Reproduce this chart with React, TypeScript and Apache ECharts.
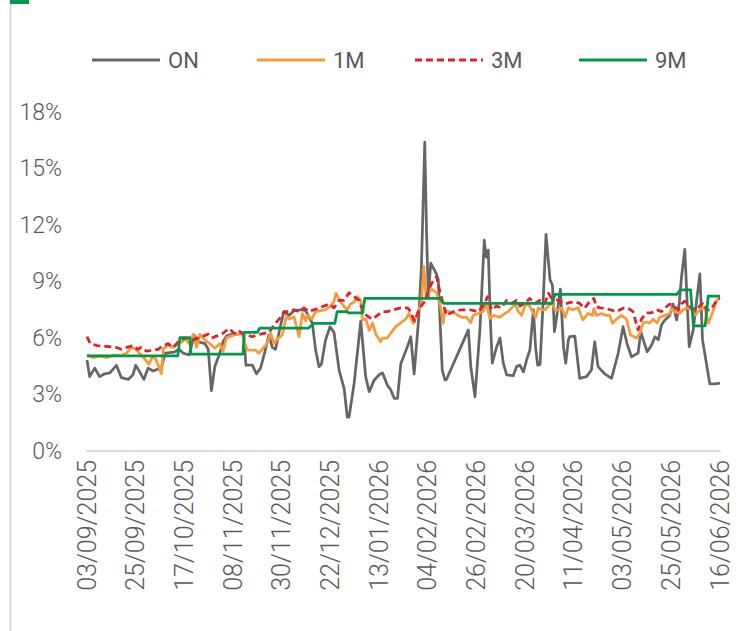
import React, { useEffect, useRef } from "react";
import * as echarts from "echarts";

const xTickLabels = [
  "03/09/2025", "25/09/2025", "17/10/2025", "08/11/2025", "30/11/2025", "22/12/2025", "13/01/2026",
  "04/02/2026", "26/02/2026", "20/03/2026", "11/04/2026", "03/05/2026", "25/05/2026", "16/06/2026",
];
const yTicks = [0, 3, 6, 9, 12, 15, 18];
const seriesNames = ["ON", "1M", "3M", "9M"];

// [day offset from 03/09/2025, rate %]
const onRates = [
  [0, 4.83], [1.2, 3.95], [3.5, 4.4], [5.7, 3.95], [8, 4.1], [10.3, 4.15], [13.3, 4.55], [15.5, 3.9], [18.6, 3.8],
  [20.8, 4.05], [22, 4.55], [23.8, 4.2], [25.7, 3.8], [27.6, 4.4], [29.9, 4.25], [32.1, 4.35], [33.6, 4.4],
  [35.3, 5.2], [39.4, 5.25], [41.6, 5.4], [43.4, 5.2], [46.2, 5.1], [48.4, 6.15], [50.2, 5.8], [53.3, 5.7],
  [54.8, 5.4], [56.2, 3.2], [57.8, 4.5], [59.7, 5.1], [61.5, 5.8], [63, 6.1], [65.3, 6.2], [68.3, 6.2],
  [69.8, 6.3], [70.9, 6.1], [71.8, 4.56], [74.7, 4.56], [76.6, 4.1], [78.4, 4.4], [80, 5.1], [82.2, 6.15],
  [83.7, 5.5], [85.2, 5.4], [87.5, 6.7], [89, 7.4], [91.3, 7.2], [93.5, 7.45], [96.5, 7.5], [98.8, 7.45],
  [100.3, 7.1], [101.8, 6.8], [103.3, 5.36], [104.8, 4.48], [105.9, 4.6], [107.8, 5.9], [109.8, 6.6],
  [111.6, 6.3], [113.9, 4.3], [116.2, 3.3], [117.6, 1.8], [118.4, 1.8], [120.7, 3.6], [123.7, 6.9],
  [125.9, 3.95], [127.5, 3.15], [129.7, 3.75], [132, 4.05], [133.5, 4.15], [135.7, 3.5], [137.2, 3.25],
  [138.8, 2.8], [140.3, 2.8], [141.8, 4.65], [144.5, 5.45], [146.3, 6.07], [147.8, 4.1], [149.9, 7.1],
  [151.1, 9.8], [152.6, 16.4], [153.4, 11.7], [154.2, 8.2], [155.3, 9.97], [157.9, 9.4], [158.7, 9.1],
  [160.5, 4.3], [161.7, 3.77], [162.4, 3.8], [172.3, 6.43], [173.4, 4.48], [175.3, 2.88], [177.5, 6.4],
  [179.5, 11.2], [180.4, 10.3], [181.3, 10.67], [182.2, 7.1], [183.1, 4.66], [185.1, 5.54], [186.6, 6.0],
  [188.1, 4.66], [189.6, 4.04], [192.6, 4.0], [194.1, 4.48], [195.6, 4.56], [197.2, 4.2], [198.6, 4.83],
  [200.1, 5.36], [201.7, 7.5], [202.7, 5.5], [203.6, 4.56], [204.7, 4.6], [206.2, 8.2], [207.4, 11.5],
  [209.2, 9.1], [210.3, 8.8], [211.2, 6.34], [212.2, 7.1], [213.9, 8.6], [215.3, 5.5], [216.3, 4.66],
  [217.5, 5.9], [218.1, 6.07], [220.4, 6.1], [222.6, 3.86], [225.7, 3.95], [227.9, 4.3], [229.4, 5.8],
  [230.9, 4.48], [233.9, 4.1], [237, 3.86], [240, 5.19], [242.2, 6.6], [244, 5.7], [246, 5.0], [249, 5.2],
  [250.2, 6.34], [251.6, 5.8], [253.1, 5.27], [255, 5.6], [256.6, 6.07], [258.1, 5.9], [259.6, 6.7],
  [261.1, 6.96], [263.3, 7.2], [264.8, 7.8], [266.4, 6.96], [267.6, 7.84], [268.6, 9.25], [270.1, 10.7],
  [271.2, 7.8], [272.1, 5.54], [273.9, 6.43], [275.4, 7.96], [276.9, 9.4], [278.1, 5.9], [279.6, 4.83],
  [281.4, 3.56], [283.7, 3.56], [286, 3.6],
];

const oneMRates = [
  [0, 5.1], [3, 4.95], [6, 5.05], [9, 4.95], [12, 5.1], [15, 5.05], [18, 5.2], [20, 5.5], [22, 5.4],
  [24.5, 5.1], [26, 4.9], [28, 4.6], [29.5, 5.0], [31, 4.9], [33.6, 4.1], [34.5, 5.45], [36.7, 5.6],
  [39, 5.5], [41, 5.7], [43, 5.8], [44.5, 6.0], [46, 5.7], [48, 6.2], [49.5, 5.5], [51, 6.2], [53.2, 5.9],
  [55.5, 5.7], [57.8, 5.45], [60, 5.7], [61.5, 5.3], [63, 6.0], [65, 6.1], [67.5, 6.2], [69.8, 6.3],
  [72, 5.5], [72.4, 5.36], [76, 5.36], [77.7, 5.2], [79.5, 5.45], [81.4, 5.7], [83, 6.25], [84.5, 5.7],
  [86.5, 6.0], [88.2, 6.15], [90, 7.13], [91.5, 7.0], [93.5, 7.13], [95.8, 6.07], [97.3, 7.3], [98.8, 6.9],
  [99.5, 7.2], [101.5, 7.0], [103.3, 7.4], [105.5, 7.45], [107.8, 7.5], [110, 7.7], [111.6, 7.93],
  [112.5, 8.37], [114.6, 7.93], [116, 7.7], [117.6, 7.5], [119, 7.8], [120.6, 7.9], [122.2, 8.2],
  [123.7, 8.0], [124.4, 6.96], [126, 7.0], [127.5, 6.4], [129, 6.8], [130.5, 6.2], [132.7, 5.8],
  [133.5, 6.0], [135.7, 6.0], [137.2, 6.25], [139.5, 6.6], [141.8, 6.8], [144, 7.0], [145.5, 7.3],
  [146.6, 7.0], [147.4, 6.78], [149.6, 7.4], [151.1, 7.9], [152.2, 9.79], [153.2, 8.2], [154.4, 8.4],
  [155.7, 8.6], [157.9, 8.4], [159.4, 7.84], [160.9, 6.78], [161.7, 7.5], [163.2, 7.4], [166.2, 7.3],
  [169.2, 7.1], [171.5, 7.1], [173.4, 6.82], [174.5, 7.2], [176.8, 7.3], [179, 7.4], [180.5, 7.84],
  [182, 7.04], [184, 7.2], [186.4, 7.1], [188.8, 7.3], [190.3, 7.4], [191.9, 7.6], [193.4, 7.8],
  [194.9, 7.4], [196.4, 7.2], [197.9, 7.7], [199.4, 7.8], [200.9, 7.5], [202.7, 7.1], [203.9, 7.6],
  [205.4, 7.5], [207, 7.5], [208.5, 7.7], [210, 7.9], [211.4, 7.5], [213, 7.5], [214.5, 7.6], [216, 7.1],
  [217.5, 7.6], [219.5, 7.5], [221.9, 7.6], [224.1, 6.96], [225.6, 7.2], [226.4, 7.3], [228.4, 7.2],
  [229, 7.56], [230.2, 7.2], [232.4, 7.3], [234.6, 7.2], [236.2, 7.2], [237.4, 6.78], [239.2, 7.0],
  [241.5, 7.2], [243.8, 7.0], [245.6, 6.16], [248.3, 6.0], [249.8, 6.25], [251.3, 6.8], [253.1, 6.85],
  [254.3, 6.8], [255.8, 7.0], [257.6, 6.8], [258.8, 7.1], [261.1, 7.2], [263.3, 7.3], [264.1, 7.56],
  [265.6, 7.4], [267.8, 7.3], [269.4, 7.5], [270.9, 7.6], [273.2, 7.5], [274.7, 7.2], [276.2, 7.4],
  [277.7, 7.6], [279.2, 7.55], [280.7, 6.78], [282.2, 7.2], [284.5, 8.0], [286, 8.15],
];

const threeMRates = [
  [0, 6.07], [1.5, 5.7], [4.5, 5.6], [8.7, 5.55], [13.3, 5.5], [15.5, 5.4], [18, 5.5], [20.8, 5.6],
  [23, 5.4], [24.5, 5.5], [26.8, 5.3], [29.8, 5.35], [32.1, 5.4], [34.4, 5.6], [36.7, 5.7], [39, 5.5],
  [41.9, 5.9], [45, 6.0], [48, 5.9], [50.3, 6.0], [52.5, 6.1], [54.7, 6.2], [56.3, 6.0], [58.5, 6.1],
  [60.8, 6.2], [63, 6.4], [64.5, 6.5], [66, 6.3], [67.5, 6.2], [69, 6.35], [70.6, 6.2], [72.4, 6.16],
  [74.7, 6.07], [76.9, 6.16], [80, 6.25], [82.3, 6.3], [84.5, 6.7], [86.8, 7.0], [89, 7.4], [91.3, 7.4],
  [93.5, 7.5], [95.8, 7.4], [98, 7.6], [100.3, 7.4], [102.6, 7.5], [104.8, 7.6], [107.1, 7.7], [109.4, 7.8],
  [111.6, 7.6], [113.9, 8.0], [116.2, 8.0], [118.4, 8.4], [120.7, 8.2], [122.9, 8.0], [125.2, 7.3],
  [127.5, 7.1], [129, 7.0], [131.2, 7.2], [133.5, 7.4], [135.7, 7.4], [138.7, 7.5], [141.8, 7.6],
  [144.8, 7.6], [146.3, 7.4], [147.5, 7.0], [148.1, 6.9], [150.3, 7.6], [152.6, 7.93], [154.2, 8.5],
  [155.7, 8.9], [157.9, 9.26], [159.4, 8.5], [160.9, 7.84], [162.4, 7.2], [165.5, 7.4], [169.2, 7.5],
  [173, 7.5], [176.8, 7.4], [179, 7.7], [181, 8.2], [182.8, 7.5], [185, 7.7], [187.2, 7.6], [189.6, 8.0],
  [191.9, 7.84], [194.1, 8.0], [195.6, 7.7], [197.9, 7.84], [200, 8.1], [202.3, 7.84], [204.6, 8.0],
  [206.9, 7.84], [208.5, 8.37], [210, 8.1], [213, 8.0], [216, 7.8], [218, 7.88], [220.4, 7.93],
  [222.6, 7.84], [224.8, 7.58], [227.1, 7.93], [229, 8.1], [230.2, 7.66], [231.7, 7.6], [234, 7.58],
  [236.3, 7.5], [239.2, 7.4], [242.2, 7.58], [244.5, 7.58], [246.7, 7.4], [249, 6.43], [250.5, 7.0],
  [252.8, 7.33], [255, 7.33], [257.3, 7.5], [259.6, 7.4], [261.8, 7.66], [263.3, 7.8], [265.2, 7.7],
  [267.1, 7.5], [268.6, 7.8], [270.1, 7.96], [272.4, 7.66], [274.7, 7.5], [276.6, 7.66], [278.4, 7.88],
  [279.9, 7.5], [281.8, 7.5], [283.7, 7.84], [285.2, 8.1], [286, 8.1],
];

const nineMRates = [
  [0, 5.05], [41, 5.05], [42, 6.02], [46.5, 6.02], [47, 5.15], [70.5, 5.15], [71, 6.3], [77, 6.3],
  [78, 6.52], [100, 6.52], [102.5, 6.78], [112, 6.78], [113, 7.4], [117.5, 7.4], [118, 7.33],
  [124.5, 7.33], [125.5, 8.1], [159.5, 8.1], [161, 7.84], [210, 7.84], [211.5, 8.32], [266.5, 8.32],
  [268, 8.55], [272.7, 8.55], [274, 6.64], [279.3, 6.64], [280.7, 8.23], [286, 8.23],
];

const seriesData = [onRates, oneMRates, threeMRates, nineMRates];
const seriesColors = ["#666666", "#F79A3B", "#E2202A", "#00984A"];
const legendLefts = [92, 257, 415, 579];

const FONT = "Roboto, 'DejaVu Sans', sans-serif";
const TEXT_COLOR = "#595959";

// legend icons: a solid bar and a dashed bar (68 x 3)
const solidIcon = "path://M0,0h68v3h-68z";
const dashedIcon =
  "path://" +
  [0, 11, 22, 33, 44, 55, 66]
    .map((x) => `M${x},0h${Math.min(7, 68 - x)}v3h-${Math.min(7, 68 - x)}z`)
    .join("");

export default function App() {
  const ref = useRef<HTMLDivElement>(null);

  useEffect(() => {
    if (!ref.current) return;
    const chart = echarts.init(ref.current, undefined, { renderer: "svg" });
    chart.setOption({
      animation: false,
      backgroundColor: "#ffffff",
      textStyle: { fontFamily: FONT },
      grid: { left: 87, right: 22, top: 112, bottom: 180, containLabel: false },
      legend: seriesNames.map((name, i) => ({
        data: [{ name, icon: i === 2 ? dashedIcon : solidIcon, itemStyle: { color: seriesColors[i] } }],
        left: legendLefts[i],
        top: 49,
        padding: 0,
        itemWidth: 68,
        itemHeight: 3,
        itemStyle: { borderWidth: 0 },
        textStyle: { fontSize: 22, color: TEXT_COLOR, fontFamily: FONT, padding: [0, 0, 0, 3] },
      })),
      xAxis: {
        type: "value",
        min: 0,
        max: 286,
        interval: 22,
        axisLine: { show: true, lineStyle: { color: "#D9D9D9", width: 2 } },
        axisTick: { show: false },
        splitLine: { show: false },
        axisLabel: {
          rotate: 90,
          margin: 9,
          fontSize: 25,
          fontWeight: 300,
          color: TEXT_COLOR,
          fontFamily: FONT,
          formatter: (v: number) => xTickLabels[Math.round(v / 22)] ?? "",
        },
      },
      yAxis: {
        type: "value",
        min: yTicks[0],
        max: yTicks[yTicks.length - 1],
        interval: 3,
        axisLine: { show: false },
        axisTick: { show: false },
        splitLine: { show: false },
        axisLabel: {
          margin: 25,
          fontSize: 23,
          fontWeight: 300,
          color: TEXT_COLOR,
          fontFamily: FONT,
          formatter: (v: number) => `${v}%`,
        },
      },
      series: seriesNames.map((name, i) => ({
        name,
        type: "line",
        data: seriesData[i],
        showSymbol: false,
        symbol: "none",
        color: seriesColors[i],
        lineStyle: {
          color: seriesColors[i],
          width: 2.75,
          type: i === 2 ? [7, 4] : "solid",
          cap: "butt",
          join: "round",
        },
        z: 2 + i,
      })),
      graphic: [
        { type: "line", shape: { x1: 10.5, y1: 0, x2: 10.5, y2: 631 }, style: { stroke: "#D9D9D9", lineWidth: 2 } },
        { type: "rect", shape: { x: 10, y: 0, width: 19, height: 4 }, style: { fill: "#00984A" } },
      ],
    });
    return () => chart.dispose();
  }, []);

  return (
    <div
      ref={ref}
      style={{ position: "absolute", left: 0, top: 0, width: 742, height: 631, background: "#fff" }}
    />
  );
}
